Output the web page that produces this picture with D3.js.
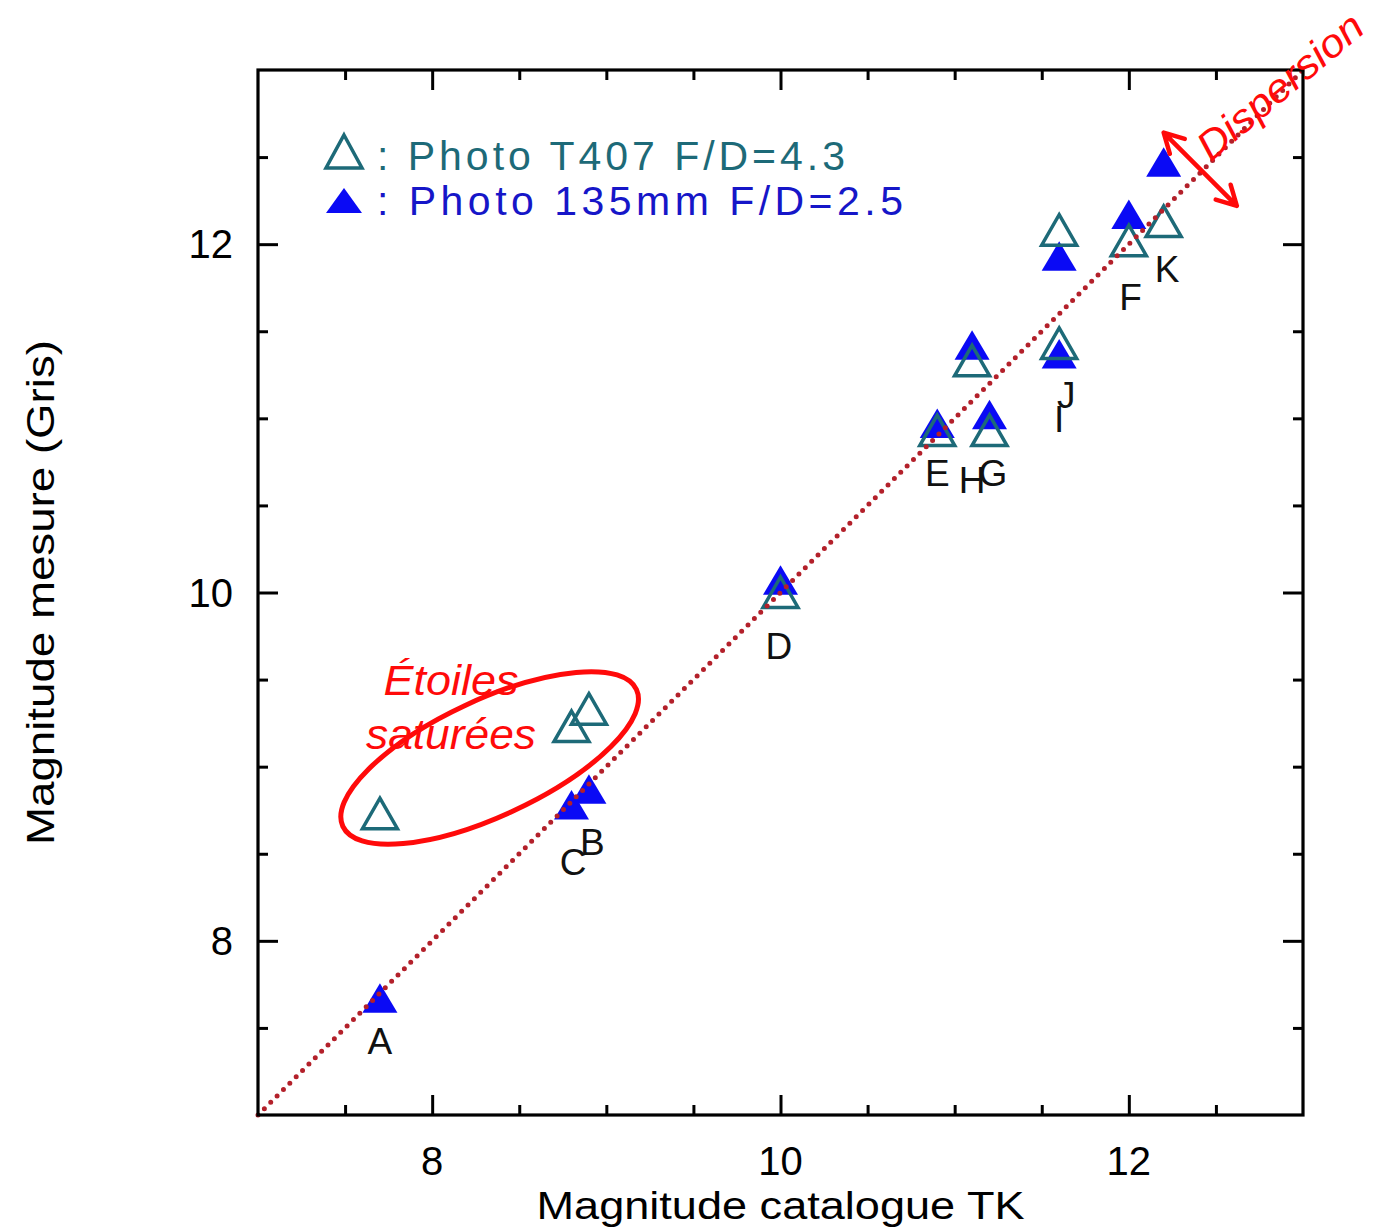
<!DOCTYPE html>
<html><head><meta charset="utf-8">
<script src="https://cdn.jsdelivr.net/npm/d3@7"></script>
<style>
html,body{margin:0;padding:0;background:#fff;}
svg{display:block;}
</style>
</head><body>
<svg id="chart" width="1373" height="1227"></svg>
<script>
// ---- data ----
const stars        = ["A","B","C","D","E","F","G","H","I","J","K"];
const catalogMag   = [7.7, 8.9, 8.8, 10.0, 10.9, 12.0, 11.2, 11.1, 11.6, 11.6, 12.2];
const magT407      = [8.73, 9.33, 9.23, 10.0, 10.93, 12.02, 10.93, 11.33, 11.43, 12.08, 12.13];
const mag135mm     = [7.67, 8.87, 8.78, 10.07, 10.97, 12.17, 11.02, 11.42, 11.37, 11.93, 12.47];
const labelX       = [7.70, 8.92, 8.81, 9.99, 10.90, 12.01, 11.22, 11.10, 11.60, 11.64, 12.22];
const labelY       = [7.35, 8.49, 8.38, 9.62, 10.61, 11.62, 10.61, 10.57, 10.92, 11.06, 11.78];
const majorTicks   = [8, 10, 12];
const minorTicks   = [7.5, 8.5, 9, 9.5, 10.5, 11, 11.5, 12.5];
const identityLine = [7, 13];
const legendLabels = [": Photo T407 F/D=4.3", ": Photo 135mm F/D=2.5"];
const xTitle = "Magnitude catalogue TK";
const yTitle = "Magnitude mesure (Gris)";
// annotations (data units)
const ellipseCenter = [8.33, 9.05];
const ellipseRadii  = [0.93, 0.333];
const arrowEnds     = [[12.2, 12.64], [12.62, 12.22]];
const noteSat       = [["Étoiles", 7.72, 9.41], ["saturées", 7.62, 9.10]];
const noteDisp      = ["Dispersion", 12.47, 12.47];

// ---- layout ----
const svg = d3.select("#chart");
const L = 258, R = 1303, T = 70, B = 1115;
const x = d3.scaleLinear().domain([7, 13]).range([L, R]);
const y = d3.scaleLinear().domain([7, 13]).range([B, T]);
const teal = "#1d6a78", blue = "#0a0af5", red = "#ff0a0a";
const font = "'Liberation Sans', Arial, sans-serif";

// ---- markers: filled first, open on top ----
const triOpen = (cx, cy) => `M${cx},${cy-15.5} L${cx+17.5},${cy+15} L${cx-17.5},${cy+15} Z`;
const triFill = (cx, cy) => `M${cx},${cy-15} L${cx+17.5},${cy+14.5} L${cx-17.5},${cy+14.5} Z`;

svg.append("g").selectAll("path").data(stars).join("path")
  .attr("d", (d,i) => triFill(x(catalogMag[i]), y(mag135mm[i])))
  .attr("fill", blue);

svg.append("g").selectAll("path").data(stars).join("path")
  .attr("d", (d,i) => triOpen(x(catalogMag[i]), y(magT407[i])))
  .attr("fill", "none").attr("stroke", teal).attr("stroke-width", 3.5)
  .attr("stroke-linejoin", "miter");

// ---- identity dotted line ----
svg.append("path")
  .attr("d", d3.line().x(d => x(d)).y(d => y(d))(identityLine))
  .attr("fill", "none").attr("stroke", "#b3202a").attr("stroke-width", 5)
  .attr("stroke-linecap", "round").attr("stroke-dasharray", "0,9");

// ---- star labels ----
svg.append("g").selectAll("text").data(stars).join("text")
  .attr("x", (d,i) => x(labelX[i])).attr("y", (d,i) => y(labelY[i]))
  .attr("text-anchor", "middle").attr("font-family", font).attr("font-size", 37)
  .attr("fill", "#111").text(d => d);

// ---- axes (ticks inward on all four sides) ----
function addAxis(gen, scale, transform, vals, size) {
  svg.append("g").attr("transform", transform)
    .call(gen(scale).tickValues(vals).tickSize(size).tickFormat(""))
    .call(g => g.select(".domain").remove())
    .call(g => g.selectAll("line").attr("stroke", "#000").attr("stroke-width", 3));
}
[[majorTicks, -20], [minorTicks, -10]].forEach(([vals, s]) => {
  addAxis(d3.axisBottom, x, `translate(0,${B})`, vals, s);
  addAxis(d3.axisTop, x, `translate(0,${T})`, vals, s);
  addAxis(d3.axisLeft, y, `translate(${L},0)`, vals, s);
  addAxis(d3.axisRight, y, `translate(${R},0)`, vals, s);
});
svg.append("rect").attr("x", L).attr("y", T).attr("width", R-L).attr("height", B-T)
  .attr("fill", "none").attr("stroke", "#000").attr("stroke-width", 3.2);

// tick labels
svg.append("g").selectAll("text").data(majorTicks).join("text")
  .attr("x", d => x(d)).attr("y", B + 60).attr("text-anchor", "middle")
  .attr("font-family", font).attr("font-size", 40).attr("fill", "#000").text(d => d);
svg.append("g").selectAll("text").data(majorTicks).join("text")
  .attr("x", L - 25).attr("y", d => y(d) + 14).attr("text-anchor", "end")
  .attr("font-family", font).attr("font-size", 40).attr("fill", "#000").text(d => d);

// axis titles
svg.append("text").attr("x", (L+R)/2).attr("y", 1219).attr("text-anchor", "middle")
  .attr("font-family", font).attr("font-size", 38).attr("fill", "#000")
  .attr("textLength", 488).attr("lengthAdjust", "spacingAndGlyphs").text(xTitle);
svg.append("text").attr("transform", `translate(54,${(T+B)/2}) rotate(-90)`)
  .attr("text-anchor", "middle")
  .attr("font-family", font).attr("font-size", 38).attr("fill", "#000")
  .attr("textLength", 505).attr("lengthAdjust", "spacingAndGlyphs").text(yTitle);

// ---- legend ----
const lg = svg.append("g");
lg.append("path").attr("d", "M344,135 L362,168 L326,168 Z")
  .attr("fill", "none").attr("stroke", teal).attr("stroke-width", 3.5);
lg.append("path").attr("d", "M344,188 L362,213 L326,213 Z").attr("fill", blue);
lg.selectAll("text").data(legendLabels).join("text")
  .attr("x", 377).attr("y", (d,i) => 170 + i*45)
  .attr("font-family", font).attr("font-size", 41)
  .attr("fill", (d,i) => i === 0 ? teal : "#1616c8")
  .attr("textLength", (d,i) => i === 0 ? 468 : 526).attr("lengthAdjust", "spacing")
  .text(d => d);

// ---- red annotations ----
const nfont = "'Liberation Sans', Arial, sans-serif";
const pxPerUnitX = x(1) - x(0), pxPerUnitY = y(0) - y(1);
svg.append("ellipse")
  .attr("transform", `translate(${x(ellipseCenter[0])},${y(ellipseCenter[1])}) rotate(-25)`)
  .attr("rx", ellipseRadii[0]*pxPerUnitX).attr("ry", ellipseRadii[1]*pxPerUnitY)
  .attr("fill", "none").attr("stroke", red).attr("stroke-width", 5);
svg.append("g").selectAll("text").data(noteSat).join("text")
  .attr("x", d => x(d[1])).attr("y", d => y(d[2]))
  .attr("font-family", nfont).attr("font-style", "italic").attr("font-size", 42)
  .attr("fill", red)
  .attr("textLength", (d,i) => i === 0 ? 135 : 170).attr("lengthAdjust", "spacingAndGlyphs")
  .text(d => d[0]);
svg.append("text")
  .attr("transform", `translate(${x(noteDisp[1])},${y(noteDisp[2])}) rotate(-40)`)
  .attr("font-family", nfont).attr("font-style", "italic").attr("font-size", 40)
  .attr("fill", red).attr("textLength", 204).attr("lengthAdjust", "spacingAndGlyphs")
  .text(noteDisp[0]);

// double arrow
const p0 = [x(arrowEnds[0][0]), y(arrowEnds[0][1])], p1 = [x(arrowEnds[1][0]), y(arrowEnds[1][1])];
const ang = Math.atan2(p1[1]-p0[1], p1[0]-p0[0]);
function head(p, a) {
  const l = 22, s = 0.5;
  return `M${p[0]+l*Math.cos(a+s)},${p[1]+l*Math.sin(a+s)} L${p[0]},${p[1]} L${p[0]+l*Math.cos(a-s)},${p[1]+l*Math.sin(a-s)}`;
}
svg.append("path")
  .attr("d", `M${p0[0]},${p0[1]} L${p1[0]},${p1[1]} ` + head(p0, ang) + " " + head(p1, ang + Math.PI))
  .attr("fill", "none").attr("stroke", red).attr("stroke-width", 4.5)
  .attr("stroke-linecap", "round").attr("stroke-linejoin", "round");
</script>
</body></html>
